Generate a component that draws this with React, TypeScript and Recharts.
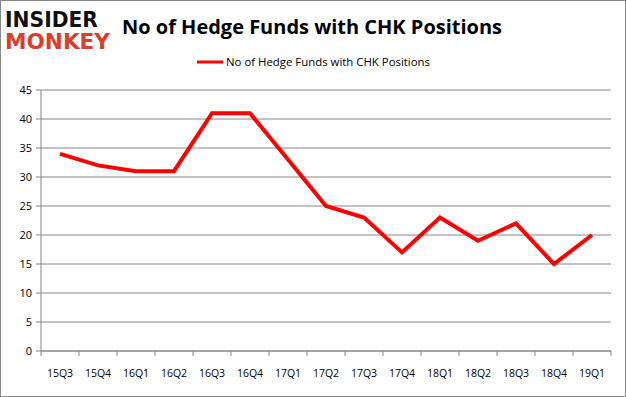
import React from 'react';
import { LineChart, Line, XAxis, YAxis, CartesianGrid } from 'recharts';

const quarters = ['15Q3', '15Q4', '16Q1', '16Q2', '16Q3', '16Q4', '17Q1', '17Q2', '17Q3', '17Q4', '18Q1', '18Q2', '18Q3', '18Q4', '19Q1'];
const funds = [34, 32, 31, 31, 41, 41, 33, 25, 23, 17, 23, 19, 22, 15, 20];
const yTicks = [0, 5, 10, 15, 20, 25, 30, 35, 40, 45];
const seriesName = 'No of Hedge Funds with CHK Positions';

const data = quarters.map((q, i) => ({ q, v: funds[i] }));

const W = 626;
const H = 397;
const LEFT = 41;
const RIGHT = 15;
const BAND = (W - LEFT - RIGHT) / quarters.length;
const FONT = '"Open Sans", "Noto Sans", sans-serif';
const GRID = '#868686';

const XTick = (props: any) => {
  const { x, y, index } = props;
  const top = y - 8;
  return (
    <g>
      <line x1={x - BAND / 2} x2={x - BAND / 2} y1={top} y2={top + 5} stroke={GRID} />
      {index === quarters.length - 1 && (
        <line x1={x + BAND / 2} x2={x + BAND / 2} y1={top} y2={top + 5} stroke={GRID} />
      )}
      <text x={x} y={top + 26} textAnchor="middle" fontSize={10.5} fontFamily={FONT} fill="#000">
        {props.payload.value}
      </text>
    </g>
  );
};

export default function App() {
  return (
    <div style={{ position: 'absolute', top: 0, left: 0, width: W, height: H, background: '#fff' }}>
      <LineChart width={W} height={H} data={data} margin={{ top: 90, right: RIGHT, left: 0, bottom: 0 }}>
        <CartesianGrid vertical={false} stroke={GRID} />
        <XAxis
          dataKey="q"
          stroke={GRID}
          tickLine={false}
          tick={<XTick />}
          height={46}
          interval={0}
          padding={{ left: BAND / 2, right: BAND / 2 }}
        />
        <YAxis
          domain={[0, 45]}
          ticks={yTicks}
          width={LEFT}
          stroke={GRID}
          tickSize={5}
          tickMargin={4}
          tick={{ fontSize: 11, fontFamily: FONT, fill: '#000' }}
        />
        <Line
          dataKey="v"
          name={seriesName}
          stroke="#ff0000"
          strokeWidth={4}
          dot={false}
          activeDot={false}
          type="linear"
          isAnimationActive={false}
        />
      </LineChart>
      <svg width={W} height={H} style={{ position: 'absolute', top: 0, left: 0, pointerEvents: 'none' }}>
        <rect x={0.5} y={0.5} width={W - 1} height={H - 1} fill="none" stroke="#888" />
        <text x={5} y={27} fontFamily='"DejaVu Sans", sans-serif' fontWeight={900} fontSize={21} fill="#111" textLength={93} lengthAdjust="spacingAndGlyphs">
          INSIDER
        </text>
        <text x={5} y={49} fontFamily='"DejaVu Sans", sans-serif' fontWeight={900} fontSize={21} fill="#d9402b" textLength={105} lengthAdjust="spacingAndGlyphs">
          MONKEY
        </text>
        <text x={122} y={34} fontFamily={FONT} fontWeight={700} fontSize={20} fill="#000" textLength={380} lengthAdjust="spacingAndGlyphs">
          No of Hedge Funds with CHK Positions
        </text>
        <line x1={197} x2={223} y1={62} y2={62} stroke="#ff0000" strokeWidth={3} />
        <text x={226} y={66} fontFamily={FONT} fontSize={11} fill="#000" textLength={204} lengthAdjust="spacingAndGlyphs">
          {seriesName}
        </text>
      </svg>
    </div>
  );
}
